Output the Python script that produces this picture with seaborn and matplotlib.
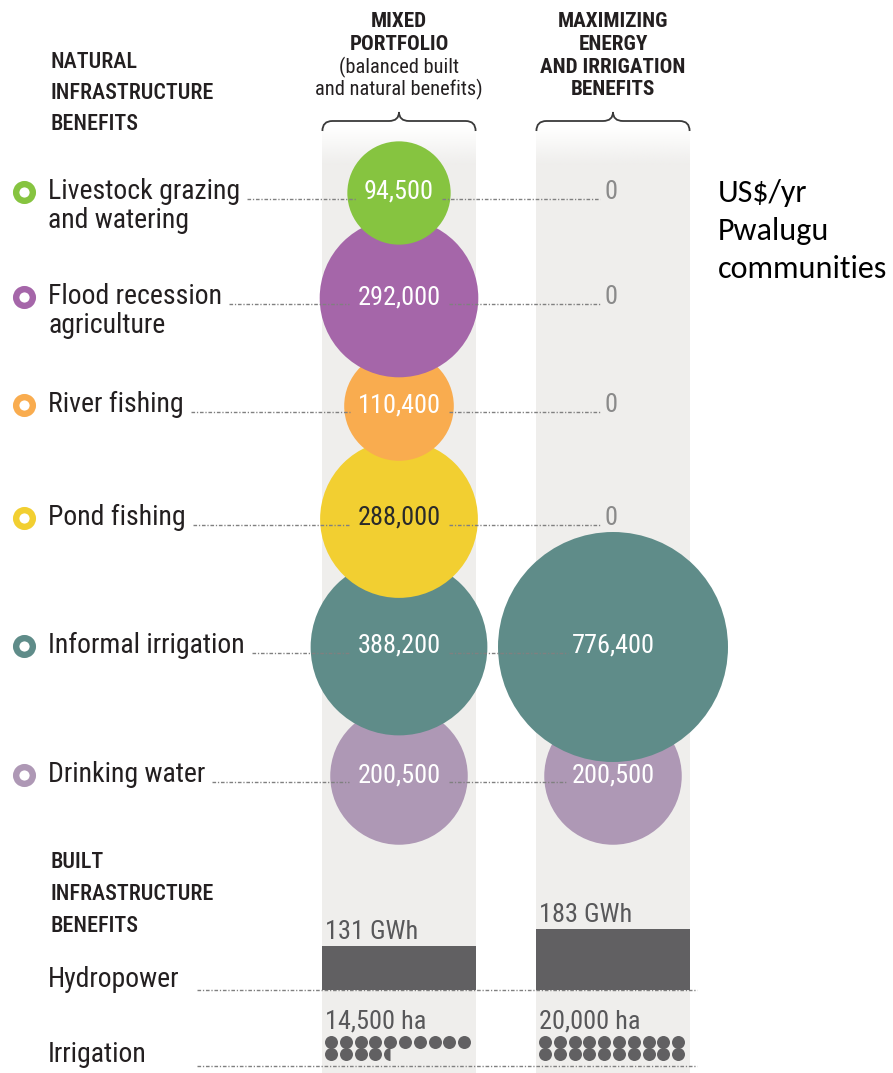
import os
import numpy as np
import pandas as pd
import matplotlib
matplotlib.use("Agg")
import matplotlib.pyplot as plt
import matplotlib.colors as mcolors
from matplotlib.path import Path
from matplotlib.patches import PathPatch, Rectangle
from matplotlib import font_manager as fm
import seaborn as sns

# ------------------------------------------------------------------ data
benefit_line1 = ["Livestock grazing", "Flood recession", "River fishing",
                 "Pond fishing", "Informal irrigation", "Drinking water"]
benefit_line2 = ["and watering", "agriculture", "", "", "", ""]
mixed_usd = [94500, 292000, 110400, 288000, 388200, 200500]
maxim_usd = [0, 0, 0, 0, 776400, 200500]
scenario_names = ["Mixed portfolio", "Maximizing energy and irrigation"]
scenario_head = [["MIXED", "PORTFOLIO", "(balanced built", "and natural benefits)"],
                 ["MAXIMIZING", "ENERGY", "AND IRRIGATION", "BENEFITS"]]
hydro_gwh = [131, 183]
irrigation_ha = [14500, 20000]
unit_lines = ["US$/yr", "Pwalugu", "communities"]

# ------------------------------------------------------------------ style
benefit_colors = ["#86c440", "#a566a9", "#f9ac4f", "#f2cf31", "#5f8c89", "#ae98b5"]
value_text_colors = ["white", "white", "white", "#2a2a2a", "white", "white"]
BAND = "#efeeec"
DARK = "#616062"
INK = "#231f20"
LINE = "#808080"

W, H = 893, 1073
X0, UNIT = 399.0, 214.0          # pixel x of first column, px per column
BH = 0.358                        # half band width in column units
row_y = [199, 304, 412, 525, 653, 782]   # label baselines (layout)
BUBBLE_DY = 6
R_MAX = 115                       # px radius of the largest bubble


def px(xp):
    return (xp - X0) / UNIT


sns.set_style("white")

avail = {os.path.basename(f.fname): f.fname for f in fm.fontManager.ttflist}


def font(files, family="DejaVu Sans", weight="normal"):
    for fn in files:
        if fn in avail:
            return fm.FontProperties(fname=avail[fn])
    return fm.FontProperties(family=family, weight=weight)


F_HEAD = font(["NotoSans-ExtraCondensedMedium.ttf", "RobotoCondensed-Medium.ttf",
               "NotoSans-CondensedMedium.ttf", "NotoSans-ExtraCondensed.ttf",
               "RobotoCondensed-Regular.ttf", "LiberationSansNarrow-Regular.ttf",
               "NotoSans-Condensed.ttf", "DejaVuSansCondensed.ttf"])
F_COND = font(["NotoSans-SemiCondensed.ttf", "NotoSans-Condensed.ttf",
               "RobotoCondensed-Regular.ttf", "LiberationSansNarrow-Regular.ttf",
               "DejaVuSansCondensed.ttf"])
F_BOLD = font(["NotoSans-CondensedBold.ttf", "NotoSans-SemiCondensedBold.ttf",
               "RobotoCondensed-Bold.ttf", "LiberationSansNarrow-Bold.ttf",
               "DejaVuSansCondensed-Bold.ttf"], weight="bold")
F_UNIT = font(["Carlito-Regular.ttf"], family="Lato")

fig = plt.figure(figsize=(W / 100, H / 100), dpi=100)
ax = fig.add_axes([0, 0, 1, 1])


def reset_limits():
    ax.set_xlim(px(0), px(W))
    ax.set_ylim(H, 0)
    ax.axis("off")


def txt(x, y, s, fp, size, **kw):
    t = ax.text(x, y, s, fontproperties=fp.copy(), **kw)
    t.set_fontsize(size)
    return t


# ------------------------------------------------------------------ bands + braces
for c in range(2):
    ax.add_patch(Rectangle((c - BH, 165), 2 * BH, H - 165, fc=BAND, ec="none", zorder=0))
    grad = np.zeros((40, 1, 4))
    grad[..., :3] = mcolors.to_rgb(BAND)
    grad[:, 0, 3] = np.linspace(0, 1, 40)
    ax.imshow(grad, extent=(c - BH, c + BH, 165.5, 128), origin="upper",
              aspect="auto", zorder=0, interpolation="bilinear")
    x0, x1, xm, d = c - BH, c + BH, c, 10 / UNIT
    ye, yb, yp = 131, 121, 112
    verts = [(x0, ye), (x0, yb), (x0 + d, yb), (xm - d, yb), (xm, yb), (xm, yp),
             (xm, yb), (xm + d, yb), (x1 - d, yb), (x1, yb), (x1, ye)]
    codes = [Path.MOVETO, Path.CURVE3, Path.CURVE3, Path.LINETO, Path.CURVE3, Path.CURVE3,
             Path.CURVE3, Path.CURVE3, Path.LINETO, Path.CURVE3, Path.CURVE3]
    ax.add_patch(PathPatch(Path(verts, codes), fill=False, ec="#3a3a3a", lw=1.3, zorder=3))
reset_limits()

# ------------------------------------------------------------------ bubbles
recs = []
for si, vals in enumerate([mixed_usd, maxim_usd]):
    for bi, v in enumerate(vals):
        if v > 0:
            recs.append(dict(scenario=si, benefit=benefit_line1[bi], usd=v,
                             y=row_y[bi] - BUBBLE_DY))
df = pd.DataFrame(recs).iloc[::-1]
vmax = max(max(mixed_usd), max(maxim_usd))
smax = (2 * R_MAX * 72 / 100) ** 2
sns.scatterplot(data=df, x="scenario", y="y", hue="benefit",
                palette=dict(zip(benefit_line1, benefit_colors)),
                size="usd", sizes=(0, smax),
                size_norm=mcolors.PowerNorm(gamma=0.76, vmin=0, vmax=vmax),
                linewidth=0, legend=False, ax=ax, zorder=2, alpha=1)
reset_limits()

# ------------------------------------------------------------------ rows
dash = (0, (2.6, 1.3, 0.9, 1.3))
labels, seconds, values, row_vals = [], [], [], []
for i in range(len(benefit_line1)):
    y = row_y[i]
    ax.plot([px(24)], [y - 7], marker="o", ms=12, mfc="white",
            mec=benefit_colors[i], mew=4.6, zorder=4)
    labels.append(txt(px(48), y, benefit_line1[i], F_COND, 19, color=INK,
                      ha="left", va="baseline", zorder=5))
    if benefit_line2[i]:
        seconds.append(txt(px(48), y + 29, benefit_line2[i], F_COND, 19, color=INK,
                           ha="left", va="baseline", zorder=5))
    pair = []
    for c, v in enumerate([mixed_usd[i], maxim_usd[i]]):
        if v > 0:
            t = txt(c, y, f"{v:,}", F_COND, 18, color=value_text_colors[i],
                    ha="center", va="baseline", zorder=5)
        else:
            t = txt(c - 0.01, y, "0", F_COND, 18, color="#8a8a8a",
                    ha="center", va="baseline", zorder=5)
        values.append(t)
        pair.append(t)
    row_vals.append(pair)

# ------------------------------------------------------------------ headers
head_nat = [txt(px(50), yb, s, F_HEAD, 22, color=INK, ha="left", va="baseline")
            for s, yb in zip(["NATURAL", "INFRASTRUCTURE", "BENEFITS"], [68, 99, 130])]
head_blt = [txt(px(50), yb, s, F_HEAD, 22, color=INK, ha="left", va="baseline")
            for s, yb in zip(["BUILT", "INFRASTRUCTURE", "BENEFITS"], [868, 900, 932])]
col_bold, col_reg = [], []
for c in range(2):
    for k, (s, yb) in enumerate(zip(scenario_head[c], [27, 50, 73, 95])):
        if c == 0 and k >= 2:
            col_reg.append(txt(c, yb, s, F_COND, 14, color=INK, ha="center", va="baseline"))
        else:
            col_bold.append(txt(c, yb, s, F_BOLD, 14.5, color=INK, ha="center", va="baseline"))

units = [txt(px(718), yb, s, F_UNIT, 22, color="black", ha="left", va="baseline")
         for s, yb in zip(unit_lines, [202, 240, 278])]

# ------------------------------------------------------------------ built infrastructure
built_lab = [txt(px(48), 987, "Hydropower", F_COND, 19, color=INK, ha="left", va="baseline"),
             txt(px(48), 1062, "Irrigation", F_COND, 19, color=INK, ha="left", va="baseline")]
for yl in (990, 1066):
    ax.plot([px(197), px(697)], [yl, yl], color=LINE, lw=1.0, ls=dash, zorder=1)

HY_MAX = 200
hax = fig.add_axes([0, (H - 990) / H, 1, HY_MAX * (61 / 183) / H])
sns.barplot(x=scenario_names, y=hydro_gwh, ax=hax, color=DARK, saturation=1,
            width=2 * BH, edgecolor="none", linewidth=0)
hax.set_xlim(px(0), px(W))
hax.set_ylim(0, HY_MAX)
hax.patch.set_alpha(0)
hax.axis("off")
small = []
for c, v in enumerate(hydro_gwh):
    t = hax.annotate(f"{v} GWh", xy=(c - BH, v), xytext=(2.2, 5), textcoords="offset points",
                     ha="left", va="baseline", color="#58585a",
                     fontproperties=F_COND.copy())
    t.set_fontsize(18)
    small.append(t)

DOT_UNIT = 1000
DOT_STEP = 14.8 / UNIT
DOT_X0 = -68 / UNIT
for c, ha in enumerate(irrigation_ha):
    small.append(txt(c - BH + 3 / UNIT, 1028, f"{ha:,} ha", F_COND, 18, color="#58585a",
                     ha="left", va="baseline"))
    n = ha / DOT_UNIT
    full = int(n)
    k = np.arange(full)
    ax.scatter(c + DOT_X0 + DOT_STEP * (k % 10), 1042 + 12 * (k // 10),
               s=(13 * 0.72) ** 2, color=DARK, linewidths=0, zorder=3)
    if n - full > 0:
        ax.plot([c + DOT_X0 + DOT_STEP * (full % 10)], [1042 + 12 * (full // 10)],
                marker="o", ms=13 * 0.72, fillstyle="left", mfc=DARK,
                mfcalt=(0, 0, 0, 0), mew=0, zorder=3)

# ------------------------------------------------------------------ fit text widths
rend = fig.canvas.get_renderer()


def fit(group, ref, target, size):
    ref.set_fontsize(size)
    w = ref.get_window_extent(rend).width
    s = size * min(1.05, target / w)
    for t in group:
        t.set_fontsize(s)


fit(labels + seconds + built_lab, labels[4], 208, 19)
fit(values, values[2], 85, 18)         # "292,000"
fit(small, small[0], 101, 18)          # "131 GWh"
fit(head_nat + head_blt, head_nat[1], 163, 22)
fit(col_bold, col_bold[4], 154, 14.5)  # "AND IRRIGATION"
fit(col_reg, col_reg[1], 187, 14)
fit(units, units[2], 170, 22)

# ------------------------------------------------------------------ leader lines (broken at texts)
inv = ax.transData.inverted()


def xspan(t):
    bb = t.get_window_extent(rend)
    a = inv.transform((bb.x0, 0))[0]
    b = inv.transform((bb.x1, 0))[0]
    return a, b


GAP = 8 / UNIT
for i, y in enumerate(row_y):
    _, lab_r = xspan(labels[i])
    v1l, v1r = xspan(row_vals[i][0])
    v2l, _ = xspan(row_vals[i][1])
    for a, b in [(lab_r + 7 / UNIT, v1l - GAP), (v1r + GAP, v2l - 4 / UNIT)]:
        ax.plot([a, b], [y, y], color=LINE, lw=1.0, ls=dash, zorder=3)

reset_limits()
fig.savefig("out.png", dpi=100)
